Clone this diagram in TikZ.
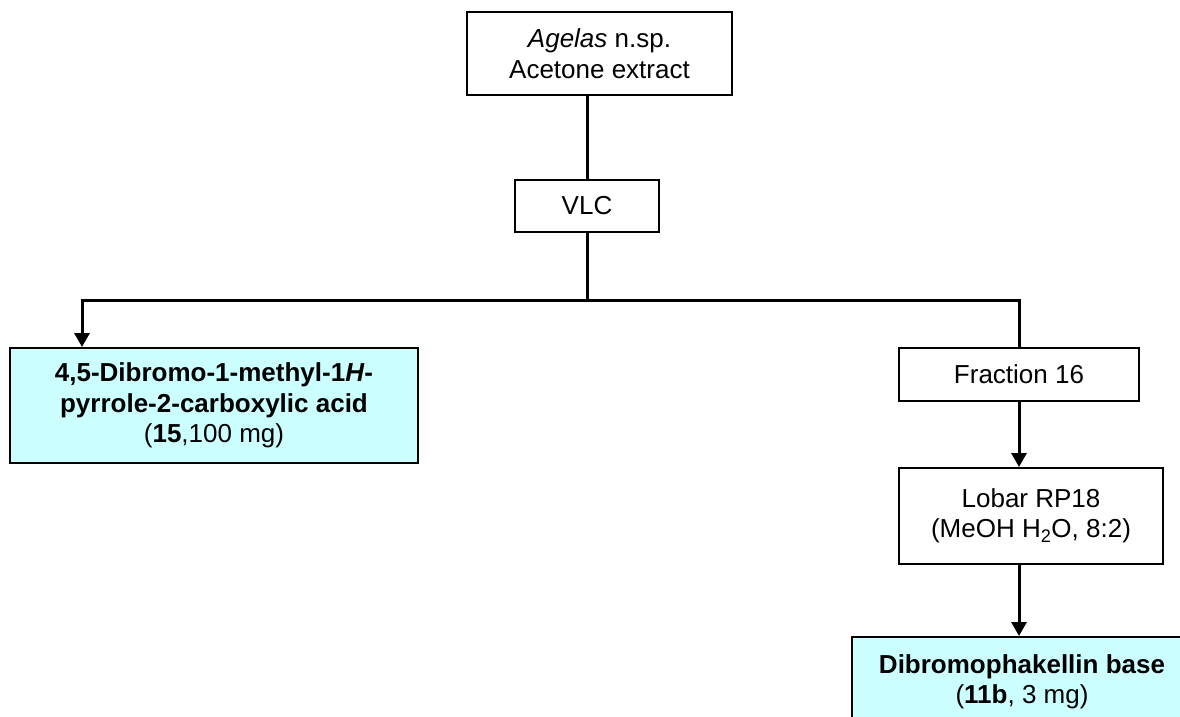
\documentclass[tikz,border=0pt]{standalone}
\usepackage{fontspec}
\setmainfont{Liberation Sans}
\usetikzlibrary{arrows.meta}
\definecolor{prodfill}{HTML}{CCFFFF}
\begin{document}
\begin{tikzpicture}[x=1pt,y=-1pt,
  font=\fontsize{26}{30.5}\selectfont,
  stepbox/.style={draw=black, line width=2pt, fill=white, inner sep=0pt, align=center},
  prodbox/.style={stepbox, fill=prodfill},
  link/.style={line width=3pt},
  arr/.style={link, -{Triangle[width=15pt,length=14pt]}}]
  \useasboundingbox (0,0) rectangle (1180,716);
  \clip (0,0) rectangle (1180,716);

  % boxes
  \node[stepbox, minimum width=265pt, minimum height=83pt] (top) at (599.5,53.5)
    {\textit{Agelas} n.sp.\\Acetone extract};
  \node[stepbox, minimum width=144pt, minimum height=52pt] (vlc) at (587,206) {VLC};
  \node[prodbox, minimum width=408pt, minimum height=115pt] (acid) at (214,405.5)
    {\textbf{4,5-Dibromo-1-methyl-1\textit{H}-}\\\textbf{pyrrole-2-carboxylic acid}\\(\textbf{15},100 mg)};
  \node[stepbox, minimum width=240pt, minimum height=53pt] (frac) at (1019,374.5) {Fraction 16};
  \node[stepbox, minimum width=264pt, minimum height=96pt] (lobar) at (1031,516)
    {Lobar RP18\\(MeOH H\textsubscript{2}O, 8:2)};
  % the last product box runs past the right and bottom edges
  \node[prodbox, minimum width=340pt, minimum height=90pt, anchor=north west] (phak) at (851,636)
    {\makebox[338pt]{\textbf{Dibromophakellin base}}\\\makebox[338pt]{(\textbf{11b}, 3 mg)}};

  % connectors
  \coordinate (split) at (587,300);
  \draw[link] (vlc.north |- top.south) -- (vlc.north);
  \draw[link] (vlc.south) -- (split);
  \draw[arr] (split) -| ([xshift=73pt]acid.north west);
  \draw[link] (split) -| (frac.north);
  \draw[arr] (frac.south) -- (frac.south |- lobar.north);
  \draw[arr] (frac.south |- lobar.south) -- (frac.south |- phak.north);
\end{tikzpicture}
\end{document}
